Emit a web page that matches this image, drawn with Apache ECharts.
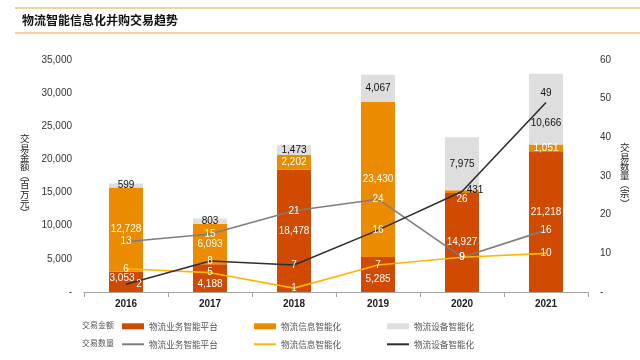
<!DOCTYPE html>
<html><head><meta charset="utf-8">
<script src="https://cdn.jsdelivr.net/npm/echarts@6/dist/echarts.min.js"></script>
<style>html,body{margin:0;padding:0;background:#fff}#c{width:640px;height:360px}</style>
</head><body><div id="c"></div>
<script>
const categories = ['2016','2017','2018','2019','2020','2021'];
const seriesNames = ['物流业务智能平台','物流信息智能化','物流设备智能化'];
const amountPlatform = [3053, 4188, 18478, 5285, 14927, 21218];
const amountInfo = [12728, 6093, 2202, 23430, 431, 1051];
const amountEquip = [599, 803, 1473, 4067, 7975, 10666];
const countPlatform = [13, 15, 21, 24, 9, 16];
const countInfo = [6, 5, 1, 7, 9, 10];
const countEquip = [2, 8, 7, 16, 26, 49];
const leftTicks = {min:0, max:35000, interval:5000};
const rightTicks = {min:0, max:60, interval:10};
const leftName = ['交','易','金','额','︵','百','万','元','︶'];
const rightName = ['交','易','数','量','︵','宗','︶'];

const FONT = '"Liberation Sans", Arial, "Noto Sans CJK SC", sans-serif';
const CJK = '"Noto Sans CJK SC", sans-serif';
const colors = ['#D04A02','#EB8C00','#DEDEDE','#7D7D7D','#FFB600','#2D2D2D'];
const fmt = v => v.toLocaleString('en-US');

function barSeries(name, data, color, labelColor, special) {
  return {
    name, type:'bar', stack:'amt', barWidth:34, itemStyle:{color},
    data: data.map((v,i)=> (special && special[i]) ? {value:v, label:special[i]} : v),
    label:{show:true, position:'inside', color:labelColor, fontSize:10, fontFamily:FONT,
      formatter:p=>fmt(p.value)},
    z:2
  };
}
function lineSeries(name, data, color, special) {
  return {
    name:'数量-'+name, type:'line', yAxisIndex:1,
    data: data.map((v,i)=> (special && special[i]) ? {value:v, label:special[i]} : v),
    symbol:'circle', symbolSize:0, lineStyle:{color, width:1.6}, itemStyle:{color},
    label:{show:true, position:'inside', color:'#fff', fontSize:10, fontFamily:FONT},
    z:5
  };
}
const legendLefts = [122, 254, 387];
const legends = [];
seriesNames.forEach((n,i)=>{
  legends.push({top:322, left:legendLefts[i], itemWidth:22, itemHeight:6, itemGap:0, padding:0,
    data:[{name:n, icon:'rect'}],
    textStyle:{color:'#555', fontSize:8.6, fontFamily:CJK}});
  legends.push({top:340, left:legendLefts[i], itemWidth:22, itemHeight:2, itemGap:0, padding:0,
    data:[{name:'数量-'+n, icon:'rect'}], formatter:x=>x.replace('数量-',''),
    textStyle:{color:'#555', fontSize:8.6, fontFamily:CJK}});
});
const nameGraphics = [];
leftName.forEach((ch,i)=> nameGraphics.push({type:'text', x:20, y:134+i*9.2,
  style:{text:ch, fill:'#222', font:'9.5px "Noto Sans CJK SC", sans-serif'}}));
rightName.forEach((ch,i)=> nameGraphics.push({type:'text', x:620, y:143+i*9.2,
  style:{text:ch, fill:'#222', font:'9.5px "Noto Sans CJK SC", sans-serif'}}));

const chart = echarts.init(document.getElementById('c'), null, {renderer:'canvas'});
chart.setOption({
  backgroundColor:'#fff',
  animation:false,
  grid:{left:84, right:52, top:60, bottom:68},
  xAxis:{type:'category', data:categories,
    axisLine:{lineStyle:{color:'#A6A6A6'}},
    axisTick:{show:true, lineStyle:{color:'#A6A6A6'}, length:5},
    axisLabel:{color:'#222', fontSize:10, fontWeight:'bold', fontFamily:FONT, margin:7}},
  yAxis:[
    {type:'value', min:leftTicks.min, max:leftTicks.max, interval:leftTicks.interval,
      splitLine:{show:false}, axisLine:{show:false}, axisTick:{show:false},
      axisLabel:{color:'#333', fontSize:10, fontFamily:FONT, margin:12,
        formatter:v=> v===0 ? '-' : fmt(v)}},
    {type:'value', min:rightTicks.min, max:rightTicks.max, interval:rightTicks.interval,
      splitLine:{show:false}, axisLine:{show:false}, axisTick:{show:false},
      axisLabel:{color:'#333', fontSize:10, fontFamily:FONT, margin:12,
        formatter:v=> v===0 ? '-' : String(v)}}
  ],
  legend: legends,
  graphic:[
    {type:'line', shape:{x1:15,y1:8,x2:640,y2:8}, style:{stroke:'#E8A04A', lineWidth:1.2}},
    {type:'line', shape:{x1:15,y1:33,x2:640,y2:33}, style:{stroke:'#E8A04A', lineWidth:1.2}},
    {type:'text', left:22, top:14, style:{text:'物流智能信息化并购交易趋势', fill:'#111', font:'bold 12px "Noto Sans CJK SC", sans-serif'}},
    {type:'text', left:82, top:321, style:{text:'交易金额', fill:'#555', font:'8px "Noto Sans CJK SC", sans-serif'}},
    {type:'text', left:82, top:339, style:{text:'交易数量', fill:'#555', font:'8px "Noto Sans CJK SC", sans-serif'}}
  ].concat(nameGraphics),
  series:[
    barSeries(seriesNames[0], amountPlatform, colors[0], '#fff',
      {0:{offset:[-4,-4]}, 1:{offset:[0,6]}, 3:{offset:[0,5]}, 5:{offset:[0,-9]}}),
    barSeries(seriesNames[1], amountInfo, colors[1], '#fff',
      {4:{color:'#111', offset:[13,-1]}}),
    barSeries(seriesNames[2], amountEquip, colors[2], '#111', {5:{offset:[0,14]}}),
    lineSeries(seriesNames[0], countPlatform, colors[3]),
    lineSeries(seriesNames[1], countInfo, colors[4]),
    lineSeries(seriesNames[2], countEquip, colors[5],
      {0:{offset:[13,0]}, 4:{offset:[0,8]}, 5:{position:'top', color:'#111', distance:4}})
  ]
});
</script></body></html>
